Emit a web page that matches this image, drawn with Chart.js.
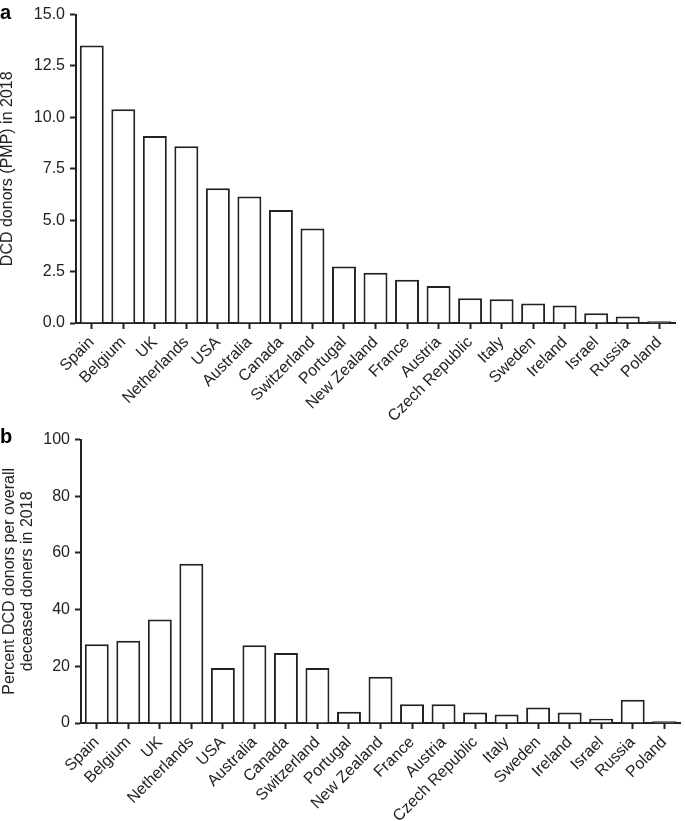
<!DOCTYPE html>
<html>
<head>
<meta charset="utf-8">
<script src="https://cdn.jsdelivr.net/npm/chart.js@4.4.1/dist/chart.umd.min.js"></script>
<style>
  body { margin: 0; background: #fff; }
  canvas { position: absolute; left: 0; }
</style>
</head>
<body>
<canvas id="chartA" width="685" height="420" style="top:0"></canvas>
<canvas id="chartB" width="685" height="396" style="top:425px"></canvas>
<script>
const countries = [
  "Spain", "Belgium", "UK", "Netherlands", "USA", "Australia", "Canada",
  "Switzerland", "Portugal", "New Zealand", "France", "Austria",
  "Czech Republic", "Italy", "Sweden", "Ireland", "Israel", "Russia", "Poland",
];

// a: DCD donors per million population
const dcdPmp = [
  13.5, 10.4, 9.1, 8.6, 6.55, 6.15, 5.5, 4.6, 2.75, 2.45, 2.1, 1.8,
  1.2, 1.15, 0.95, 0.85, 0.48, 0.32, 0.08,
];

// b: percent DCD of all deceased donors
const dcdPercent = [
  27.8, 29.0, 36.5, 56.2, 19.4, 27.4, 24.7, 19.4, 4.0, 16.3, 6.6, 6.6,
  3.7, 3.0, 5.5, 3.7, 1.5, 8.2, 0.6,
];

const yTitleA = "DCD donors (PMP) in 2018";
const yTitleB = ["Percent DCD donors per overall", "deceased doners in 2018"];

const ink = "#222";
const fontFamily = "'Liberation Sans', Arial, sans-serif";

function panelLabel(letter, x, y) {
  return {
    id: "panelLabel",
    afterDraw(chart) {
      const ctx = chart.ctx;
      ctx.save();
      ctx.font = "bold 20px " + fontFamily;
      ctx.fillStyle = "#000";
      ctx.textBaseline = "alphabetic";
      ctx.fillText(letter, x, y);
      ctx.restore();
    },
  };
}

function makeChart(id, values, opts) {
  const ctx = document.getElementById(id).getContext("2d");
  return new Chart(ctx, {
    type: "bar",
    data: {
      labels: countries,
      datasets: [
        {
          data: values,
          backgroundColor: "#fff",
          borderColor: ink,
          borderWidth: 2,
          barPercentage: 0.76,
          categoryPercentage: 1,
        },
      ],
    },
    options: {
      responsive: false,
      animation: false,
      layout: { padding: opts.padding },
      plugins: {
        legend: { display: false },
        tooltip: { enabled: false },
      },
      scales: {
        x: {
          grid: {
            display: true,
            drawOnChartArea: false,
            drawTicks: true,
            offset: false,
            tickLength: 6,
            tickWidth: 2,
            tickColor: ink,
          },
          border: { display: true, color: ink, width: 2 },
          ticks: {
            color: ink,
            font: { family: fontFamily, size: 16 },
            maxRotation: 45,
            minRotation: 45,
            autoSkip: false,
            padding: 4,
          },
          afterFit(scale) {
            scale.height = opts.xHeight;
          },
        },
        y: {
          min: 0,
          max: opts.yMax,
          grid: {
            display: true,
            drawOnChartArea: false,
            drawTicks: true,
            tickLength: 6,
            tickWidth: 2,
            tickColor: ink,
          },
          border: { display: true, color: ink, width: 2 },
          ticks: {
            stepSize: opts.step,
            color: ink,
            padding: 5,
            font: { family: fontFamily, size: 16 },
            callback: opts.tickFormat,
          },
          title: {
            display: true,
            text: opts.title,
            color: ink,
            padding: 0,
            font: { family: fontFamily, size: 16, lineHeight: opts.titleLineHeight },
          },
          afterFit(scale) {
            scale.width = opts.yWidth;
          },
        },
      },
    },
    plugins: [panelLabel(opts.letter, 0, opts.letterY)],
  });
}

makeChart("chartA", dcdPmp, {
  padding: { top: 13, right: 10, left: 0, bottom: 0 },
  xHeight: 97,
  yWidth: 76,
  yMax: 15,
  step: 2.5,
  tickFormat: (v) => v.toFixed(1),
  title: yTitleA,
  titleLineHeight: 1.0,
  letter: "a",
  letterY: 19,
});

makeChart("chartB", dcdPercent, {
  padding: { top: 12, right: 5, left: 0, bottom: 0 },
  xHeight: 98,
  yWidth: 81,
  yMax: 100,
  step: 20,
  tickFormat: (v) => v,
  title: yTitleB,
  titleLineHeight: 1.16,
  letter: "b",
  letterY: 18,
});
</script>
</body>
</html>
